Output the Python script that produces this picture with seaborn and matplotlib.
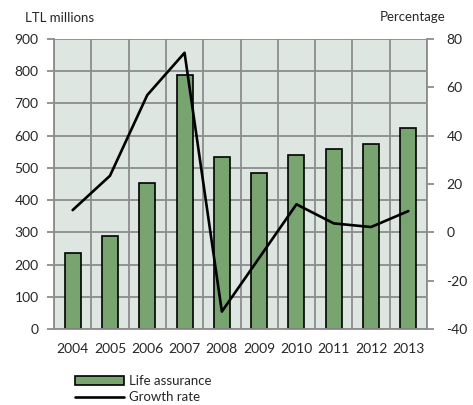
import matplotlib
matplotlib.use("Agg")
import matplotlib.pyplot as plt
import seaborn as sns
import pandas as pd
import numpy as np
from matplotlib.patches import Patch
from matplotlib.lines import Line2D

years = ["2004", "2005", "2006", "2007", "2008", "2009", "2010", "2011", "2012", "2013"]
life_assurance = [235, 290, 453, 789, 534, 483, 539, 559, 573, 625]
growth_rate = [9.2, 23.4, 56.8, 74.3, -32.8, -10.6, 11.6, 3.7, 2.2, 8.8]
left_ticks = [0, 100, 200, 300, 400, 500, 600, 700, 800, 900]
right_ticks = [-40, -20, 0, 20, 40, 60, 80]

sns.set_style("white")
plt.rcParams['font.family'] = ['Lato', 'DejaVu Sans']
plt.rcParams['axes.unicode_minus'] = False

df = pd.DataFrame({"year": years, "life": life_assurance, "growth": growth_rate})

fig = plt.figure(figsize=(4.73, 4.05), dpi=100)
ax = fig.add_axes([54/473, 1-329/405, (427-54)/473, (329-39)/405])
grid_c = "#8c8c8c"
bar_c = "#77a46f"
ax.set_facecolor("#dde6e1")

sns.barplot(data=df, x="year", y="life", ax=ax, color=bar_c, width=0.43,
            edgecolor="black", linewidth=1.2, saturation=1, zorder=2)
ax.set_xlim(-0.5, len(years)-0.5)
ax.set_ylim(0, 900)
ax.set_yticks(left_ticks)
ax.set_xlabel("")
ax.set_ylabel("")

ax.set_xticks(np.arange(-0.5, len(years), 1.0), minor=True)
ax.tick_params(axis="x", which="major", length=0, labelsize=10, pad=10)
ax.tick_params(axis="x", which="minor", length=5, width=1.3, color=grid_c)
ax.tick_params(axis="y", length=5, width=1.3, color=grid_c, labelsize=10, pad=6)
ax.grid(True, axis="y", color=grid_c, linewidth=1.3, zorder=0)
ax.grid(True, axis="x", which="minor", color=grid_c, linewidth=1.3, zorder=0)
ax.grid(False, axis="x", which="major")
ax.set_axisbelow(True)
for s in ["top", "right"]:
    ax.spines[s].set_visible(False)
for s in ["left", "bottom"]:
    ax.spines[s].set_color(grid_c)
    ax.spines[s].set_linewidth(1.3)

ax2 = ax.twinx()
sns.lineplot(data=df, x="year", y="growth", ax=ax2, color="black", linewidth=1.9,
             sort=False)
ax2.set_ylim(-40, 80)
ax2.set_yticks(right_ticks)
ax2.set_xlim(-0.5, len(years)-0.5)
ax2.set_ylabel("")
ax2.set_xlabel("")
ax2.tick_params(axis="y", length=5, width=1.3, color=grid_c, labelsize=10, pad=9)
for s in ["top", "left", "bottom"]:
    ax2.spines[s].set_visible(False)
ax2.spines["right"].set_color(grid_c)
ax2.spines["right"].set_linewidth(1.3)

fig.text(25/473, 1-18/405, "LTL millions", fontsize=9.5, va="center", ha="left")
fig.text(445/473, 1-17/405, "Percentage", fontsize=9.5, va="center", ha="right")

handles = [Patch(facecolor=bar_c, edgecolor="black", linewidth=1.2),
           Line2D([0], [0], color="black", linewidth=1.9)]
fig.legend(handles, ["Life assurance", "Growth rate"], loc="upper left",
           bbox_to_anchor=(66/473, 1-366/405), frameon=False, fontsize=9.5,
           handlelength=3.7, handleheight=0.65, handletextpad=0.4,
           labelspacing=0.3, borderpad=0.2)

fig.savefig("out.png", dpi=100)
